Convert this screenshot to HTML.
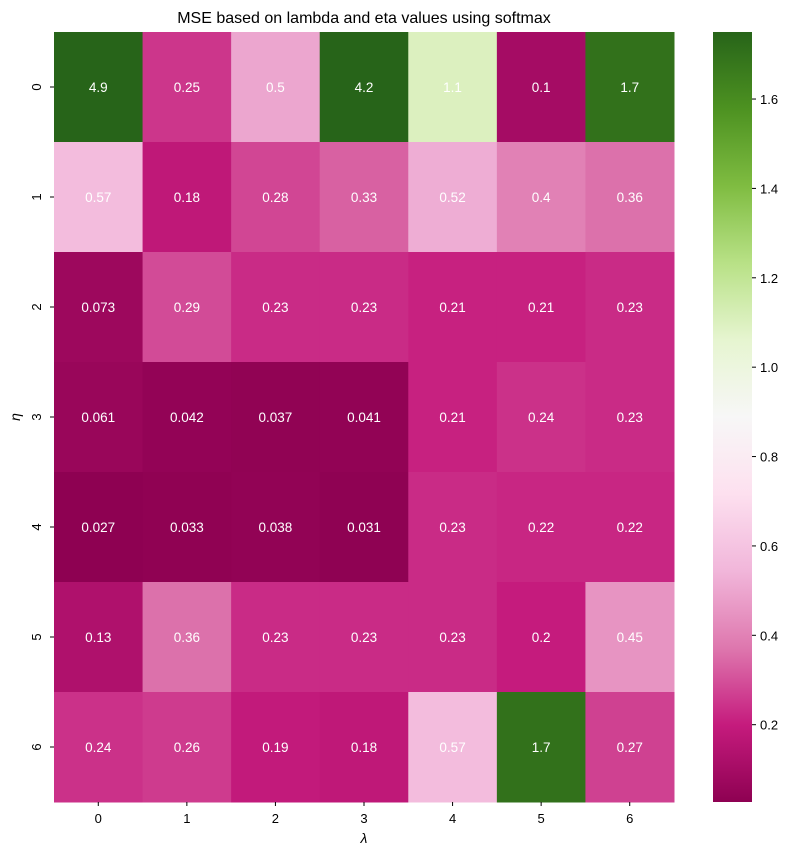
<!DOCTYPE html>
<html><head><meta charset="utf-8"><style>
body{margin:0;background:#fff;}
svg text{font-family:"Liberation Sans","DejaVu Sans",sans-serif;}
</style></head><body>
<svg id="chart" width="793" height="856" xmlns="http://www.w3.org/2000/svg">
<text x="364" y="23" text-anchor="middle" font-size="16" fill="#000">MSE based on lambda and eta values using softmax</text>
<g id="cells"></g>
<g id="xaxis"></g>
<g id="yaxis"></g>
<text x="364" y="843" text-anchor="middle" font-size="14" font-style="italic">λ</text>
<text transform="translate(20,417) rotate(-90)" text-anchor="middle" font-size="14" font-style="italic">η</text>
<defs><linearGradient id="cbg" x1="0" y1="1" x2="0" y2="0"></linearGradient></defs>
<rect x="713" y="32" width="39" height="770" fill="url(#cbg)"/>
<g id="cbticks"></g>
</svg>
<script>
const xLabels=["0","1","2","3","4","5","6"];
const yLabels=["0","1","2","3","4","5","6"];
const row0=[4.9,0.25,0.5,4.2,1.1,0.1,1.7];
const row1=[0.57,0.18,0.28,0.33,0.52,0.4,0.36];
const row2=[0.073,0.29,0.23,0.23,0.21,0.21,0.23];
const row3=[0.061,0.042,0.037,0.041,0.21,0.24,0.23];
const row4=[0.027,0.033,0.038,0.031,0.23,0.22,0.22];
const row5=[0.13,0.36,0.23,0.23,0.23,0.2,0.45];
const row6=[0.24,0.26,0.19,0.18,0.57,1.7,0.27];
const cbTicks=[0.2,0.4,0.6,0.8,1.0,1.2,1.4,1.6];
const vmin=0.027, vmax=1.75;
const rows=[row0,row1,row2,row3,row4,row5,row6];
const NS="http://www.w3.org/2000/svg";
const L=54,T=32,W=620,H=770;
const cw=W/xLabels.length, ch=H/yLabels.length;
const stops=["#8e0152","#c51b7d","#de77ae","#f1b6da","#fde0ef","#f7f7f7","#e6f5d0","#b8e186","#7fbc41","#4d9221","#276419"];
function hx(c){return [1,3,5].map(i=>parseInt(c.substr(i,2),16));}
function cmap(t){t=Math.max(0,Math.min(1,t));const p=t*(stops.length-1);const i=Math.min(stops.length-2,Math.floor(p));const f=p-i;const a=hx(stops[i]),b=hx(stops[i+1]);return "rgb("+a.map((v,k)=>Math.round(v+(b[k]-v)*f)).join(",")+")";}
function norm(v){return (v-vmin)/(vmax-vmin);}
function xS(i){return L+i*cw;}
function yS(j){return T+j*ch;}
function cbY(v){return T+H-norm(v)*H;}
function mk(tag,attrs,parent){const e=document.createElementNS(NS,tag);for(const k in attrs)e.setAttribute(k,attrs[k]);parent.appendChild(e);return e;}
const cells=document.getElementById('cells');
rows.forEach((r,j)=>r.forEach((v,i)=>{
  const rc=mk('rect',{x:xS(i),y:yS(j),width:cw+0.5,height:ch+0.5,fill:cmap(norm(v))},cells);
  
  
  const t=mk('text',{x:xS(i)+cw/2,y:yS(j)+ch/2+5,'text-anchor':'middle','font-size':'13.5',fill:'#fff'},cells);
  t.textContent=String(v);
  
  
}));
const xa=document.getElementById('xaxis');
xLabels.forEach((l,i)=>{
  const x=xS(i)+cw/2;
  mk('line',{x1:x,x2:x,y1:T+H,y2:T+H+4,stroke:'#000'},xa);
  const t=mk('text',{x:x,y:T+H+21,'text-anchor':'middle','font-size':'13'},xa);
  t.textContent=l;
  
  
});
const ya=document.getElementById('yaxis');
yLabels.forEach((l,j)=>{
  const y=yS(j)+ch/2;
  mk('line',{x1:L-4,x2:L,y1:y,y2:y,stroke:'#000'},ya);
  const t=mk('text',{transform:'translate(41,'+y+') rotate(-90)','text-anchor':'middle','font-size':'13'},ya);
  t.textContent=l;
  
  
});
const g=document.getElementById('cbg');
for(let k=0;k<=20;k++){mk('stop',{offset:(k/20),'stop-color':cmap(k/20)},g);}
const cb=document.getElementById('cbticks');
cbTicks.forEach(v=>{
  const y=cbY(v);
  mk('line',{x1:752,x2:756,y1:y,y2:y,stroke:'#000'},cb);
  const t=mk('text',{x:760,y:y+5,'font-size':'13'},cb);
  t.textContent=v.toFixed(1);
  
  
});
</script>
</body></html>
